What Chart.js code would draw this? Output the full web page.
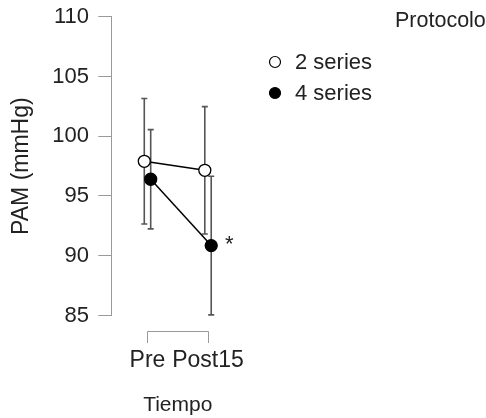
<!DOCTYPE html>
<html>
<head>
<meta charset="utf-8">
<script src="https://cdn.jsdelivr.net/npm/chart.js@4"></script>
<style>
  body { margin: 0; background: #fff; }
</style>
</head>
<body>
<canvas id="pamChart" width="486" height="418"></canvas>
<script>
// ====== data
const categories = ['Pre', 'Post15'];
const seriesNames = ['2 series', '4 series'];
const mean2 = [97.9, 97.15];
const sd2 = [5.25, 5.33];
const mean4 = [96.4, 90.85];
const sd4 = [4.15, 5.8];
const yTicks = [85, 90, 95, 100, 105, 110];
const signif4 = ['', '*'];

const FONT = "'Liberation Sans', Arial, sans-serif";
const TEXT = '#222';
const AXIS = '#999';
const dodge = 0.053;

function points(means, shift) {
  return categories.map((c, i) => ({ x: i + 1 + shift, y: means[i] }));
}

// error bars, drawn under the points
const errorBars = {
  id: 'errorBars',
  beforeDatasetsDraw(chart) {
    const ctx = chart.ctx;
    const y = chart.scales.y;
    ctx.save();
    ctx.strokeStyle = '#555';
    ctx.lineWidth = 1.6;
    chart.data.datasets.forEach((ds, d) => {
      const meta = chart.getDatasetMeta(d);
      ds.data.forEach((p, i) => {
        const px = meta.data[i].x;
        const top = y.getPixelForValue(p.y + ds.sd[i]);
        const bot = y.getPixelForValue(p.y - ds.sd[i]);
        ctx.beginPath();
        ctx.moveTo(px, top); ctx.lineTo(px, bot);
        ctx.moveTo(px - 3, top); ctx.lineTo(px + 3, top);
        ctx.moveTo(px - 3, bot); ctx.lineTo(px + 3, bot);
        ctx.stroke();
      });
    });
    ctx.restore();
  },
  afterDatasetsDraw(chart) {
    // significance marks
    const ctx = chart.ctx;
    const meta = chart.getDatasetMeta(1);
    ctx.save();
    ctx.fillStyle = TEXT;
    ctx.font = '22px ' + FONT;
    ctx.textAlign = 'center';
    ctx.textBaseline = 'middle';
    signif4.forEach((s, i) => {
      if (!s) return;
      const el = meta.data[i];
      ctx.fillText(s, el.x + 18, el.y - 1);
    });
    ctx.restore();
  }
};

// R-style bracket x axis + legend
const decorations = {
  id: 'decorations',
  afterDraw(chart) {
    const ctx = chart.ctx;
    const x = chart.scales.x;
    const area = chart.chartArea;
    const x1 = Math.round(x.getPixelForValue(1)) + 0.5;
    const x2 = Math.round(x.getPixelForValue(categories.length)) + 0.5;
    const yl = Math.round(area.bottom + 15) + 0.5;
    ctx.save();
    ctx.strokeStyle = AXIS;
    ctx.lineWidth = 1;
    ctx.beginPath();
    ctx.moveTo(x1, yl + 11.5); ctx.lineTo(x1, yl); ctx.lineTo(x2, yl); ctx.lineTo(x2, yl + 11.5);
    ctx.stroke();

    // legend
    ctx.fillStyle = TEXT;
    ctx.textBaseline = 'middle';
    ctx.textAlign = 'left';
    ctx.font = '21.5px ' + FONT;
    ctx.fillText('Protocolo', 395, 21);
    ctx.font = '22px ' + FONT;
    chart.data.datasets.forEach((ds, d) => {
      const cy = 62 + d * 31;
      ctx.beginPath();
      ctx.arc(275, cy, 5.5, 0, Math.PI * 2);
      ctx.fillStyle = ds.pointBackgroundColor;
      ctx.fill();
      ctx.strokeStyle = '#000';
      ctx.lineWidth = 1.2;
      ctx.stroke();
      ctx.fillStyle = TEXT;
      ctx.fillText(ds.label, 295, cy + 1);
    });
    ctx.restore();
  }
};

const ctp = document.getElementById('pamChart').getContext('2d');
const pamChart = new Chart(ctp, {
  type: 'line',
  data: {
    datasets: [
      {
        label: seriesNames[0],
        data: points(mean2, -dodge),
        sd: sd2,
        borderColor: '#000',
        borderWidth: 1.5,
        pointRadius: 6,
        pointBorderWidth: 1.3,
        pointBackgroundColor: '#fff',
        pointBorderColor: '#000',
        clip: false
      },
      {
        label: seriesNames[1],
        data: points(mean4, dodge),
        sd: sd4,
        borderColor: '#000',
        borderWidth: 1.5,
        pointRadius: 6,
        pointBorderWidth: 1.3,
        pointBackgroundColor: '#000',
        pointBorderColor: '#000',
        clip: false
      }
    ]
  },
  options: {
    responsive: false,
    animation: false,
    layout: {
      padding: { left: 0, right: 241.5, top: 16.7, bottom: 0 }
    },
    plugins: {
      legend: { display: false },
      tooltip: { enabled: false }
    },
    scales: {
      x: {
        type: 'linear',
        min: 0.397,
        max: 2.603,
        afterFit(scale) {
          scale.height = 102.5;
          scale.paddingLeft = 0;
          scale.paddingRight = 0;
        },
        afterBuildTicks(scale) { scale.ticks = categories.map((c, i) => ({ value: i + 1 })); },
        grid: { display: false, drawTicks: false },
        border: { display: false },
        ticks: {
          padding: 31.7,
          color: TEXT,
          font: { family: FONT, size: 23 },
          maxRotation: 0,
          autoSkip: false,
          callback: (v, i) => categories[i]
        },
        title: {
          display: true,
          text: 'Tiempo',
          color: TEXT,
          font: { family: FONT, size: 21 },
          padding: { top: 0, bottom: 0.4 }
        }
      },
      y: {
        min: 85,
        max: 110,
        afterFit(scale) {
          scale.width = 111;
          scale.paddingTop = 0;
          scale.paddingBottom = 0;
        },
        afterBuildTicks(scale) { scale.ticks = yTicks.map(v => ({ value: v })); },
        grid: {
          drawOnChartArea: false,
          drawTicks: true,
          tickLength: 12.7,
          color: AXIS,
          lineWidth: 1
        },
        border: { display: true, color: AXIS, width: 1 },
        ticks: {
          padding: 9.3,
          color: TEXT,
          font: { family: FONT, size: 22 }
        },
        title: {
          display: true,
          text: 'PAM (mmHg)',
          color: TEXT,
          font: { family: FONT, size: 23 },
          padding: { top: 7.7, bottom: 0 }
        }
      }
    }
  },
  plugins: [errorBars, decorations]
});
</script>
</body>
</html>
